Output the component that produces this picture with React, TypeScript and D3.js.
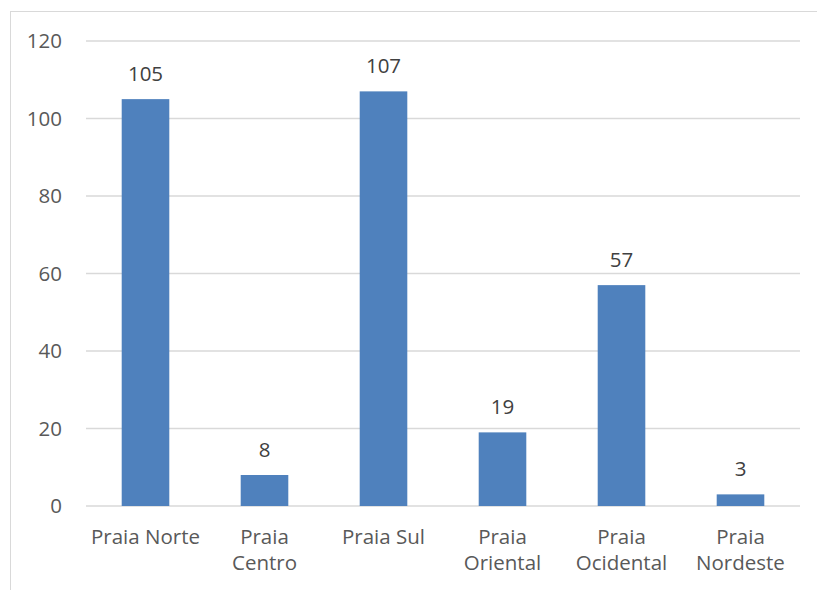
import React from "react";
import * as d3 from "d3";

const categories: string[][] = [
  ["Praia Norte"],
  ["Praia", "Centro"],
  ["Praia Sul"],
  ["Praia", "Oriental"],
  ["Praia", "Ocidental"],
  ["Praia", "Nordeste"],
];
const values: number[] = [105, 8, 107, 19, 57, 3];
const yTicks: number[] = [0, 20, 40, 60, 80, 100, 120];

export default function App() {
  const W = 817, H = 590;
  const left = 86, right = 800, top = 41, bottom = 506;
  const x = d3.scaleBand<number>().domain(values.map((_, i) => i)).range([left, right]).paddingInner(0.6).paddingOuter(0.3);
  const y = d3.scaleLinear().domain([0, 120]).range([bottom, top]);
  const font = "'Open Sans', 'Noto Sans', sans-serif";
  const fs = 20.5;
  return (
    <svg width={W} height={H} style={{ position: "absolute", left: 0, top: 0 }} fontFamily={font}>
      <rect x={0} y={0} width={W} height={H} fill="#fff" />
      <rect x={10.5} y={11.5} width={W + 10} height={H + 10} fill="none" stroke="#d9d9d9" strokeWidth={1} />
      {yTicks.map((t) => (
        <g key={t}>
          <line x1={left} x2={right} y1={y(t)} y2={y(t)} stroke="#d9d9d9" strokeWidth={1.3} />
          <text x={62} y={y(t)} dy="0.36em" textAnchor="end" fontSize={fs} fill="#595959">{t}</text>
        </g>
      ))}
      {values.map((v, i) => {
        const bx = x(i)!;
        const bw = x.bandwidth();
        return (
          <g key={i}>
            <rect x={bx} y={y(v)} width={bw} height={bottom - y(v)} fill="#4f81bd" />
            <text x={bx + bw / 2} y={y(v) - 18} textAnchor="middle" fontSize={fs} fill="#404040">{v}</text>
            {categories[i].map((line, j) => (
              <text key={j} x={bx + bw / 2} y={544 + j * 26} textAnchor="middle" fontSize={fs} fill="#595959">{line}</text>
            ))}
          </g>
        );
      })}
    </svg>
  );
}
